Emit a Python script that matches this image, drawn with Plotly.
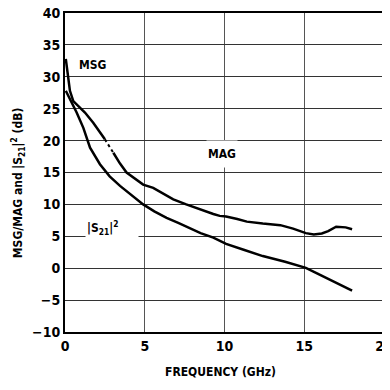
import plotly.graph_objects as go

# MSG portion (solid), transition (dotted), MAG portion (solid)
msg_x = [0.05, 0.31, 0.52, 0.9, 1.25, 1.77, 2.19, 2.5]
msg_y = [32.8, 27.8, 26.2, 25.3, 24.4, 22.8, 21.2, 20.2]
trans_x = [2.5, 2.82, 3.03]
trans_y = [20.2, 18.9, 18.1]
mag_x = [3.03, 3.45, 3.86, 4.4, 4.9, 5.53, 6.2, 6.79, 7.6, 8.46, 9.3, 9.7, 10.1, 10.8, 11.4, 12.4, 13.5, 14.3, 15.1, 15.6, 16.1, 16.5, 17.0, 17.6, 18.0]
mag_y = [18.1, 16.4, 15.0, 14.0, 13.1, 12.6, 11.7, 10.8, 10.0, 9.2, 8.5, 8.2, 8.1, 7.7, 7.3, 7.0, 6.75, 6.2, 5.5, 5.3, 5.45, 5.8, 6.5, 6.4, 6.1]
s21_x = [0.05, 0.31, 0.73, 1.15, 1.57, 2.19, 2.8, 3.45, 4.2, 4.9, 5.6, 6.37, 7.1, 7.83, 8.5, 9.3, 10.1, 11.2, 12.4, 13.8, 15.1, 15.8, 16.6, 18.0]
s21_y = [27.8, 26.5, 24.4, 22.0, 18.9, 16.3, 14.4, 12.9, 11.4, 10.0, 8.9, 7.9, 7.1, 6.3, 5.5, 4.8, 3.8, 2.9, 1.9, 1.0, 0.05, -0.8, -1.8, -3.5]

xticks = [0, 5, 10, 15, 20]
yticks = [-10, -5, 0, 5, 10, 15, 20, 25, 30, 35, 40]

FONT = "DejaVu Sans Condensed, Liberation Sans Narrow, sans-serif"
line = dict(color="black", width=2.5)

fig = go.Figure()
fig.add_trace(go.Scatter(x=msg_x, y=msg_y, mode="lines", line=line))
fig.add_trace(go.Scatter(x=trans_x, y=trans_y, mode="lines", line=dict(color="black", width=2, dash="dot")))
fig.add_trace(go.Scatter(x=mag_x, y=mag_y, mode="lines", line=line))
fig.add_trace(go.Scatter(x=s21_x, y=s21_y, mode="lines", line=line))

ann_font = dict(family=FONT, size=12, color="black", weight="bold")
fig.add_annotation(x=1.75, y=31.9, text="MSG", showarrow=False, font=ann_font)
fig.add_annotation(x=9.84, y=17.9, text="MAG", showarrow=False, font=ann_font,
                   bgcolor="white", height=24, borderpad=1)
fig.add_annotation(x=1.25, y=6.3, text="|S<sub>21</sub>|<sup>2</sup>", showarrow=False,
                   xanchor="left", align="left", width=50, borderpad=1,
                   font=ann_font, bgcolor="white")
# axis titles
fig.add_annotation(xref="paper", yref="paper", x=0.489, y=-0.126, yanchor="middle",
                   text="FREQUENCY (GHz)", showarrow=False, font=ann_font)
fig.add_annotation(xref="paper", yref="paper", x=-0.147, y=0.467, textangle=-90,
                   xanchor="center", yanchor="middle",
                   text="MSG/MAG and |S<sub>21</sub>|<sup>2</sup> (dB)", showarrow=False, font=ann_font)

# page body has an 8px default margin, so the figure is sized/offset to compensate
fig.update_layout(
    width=382, height=374,
    margin=dict(l=57, r=6, t=5, b=50),
    plot_bgcolor="white", paper_bgcolor="white",
    showlegend=False,
    font=dict(family=FONT, size=12, color="black"),
)
fig.update_xaxes(
    range=[0, 20], tickvals=xticks,
    showgrid=True, gridcolor="#555", gridwidth=1,
    showline=True, linecolor="black", linewidth=2, mirror=True,
    zeroline=False, ticks="", automargin=False, ticklabeloverflow="allow",
    tickfont=dict(size=14, weight="bold"),
)
fig.update_yaxes(
    range=[-10, 40], tickvals=yticks,
    showgrid=True, gridcolor="#333", gridwidth=1,
    showline=True, linecolor="black", linewidth=2, mirror=True,
    zeroline=False, ticks="", automargin=False, ticklabeloverflow="allow",
    tickfont=dict(size=14, weight="bold"),
)

fig.write_html("out.html")
